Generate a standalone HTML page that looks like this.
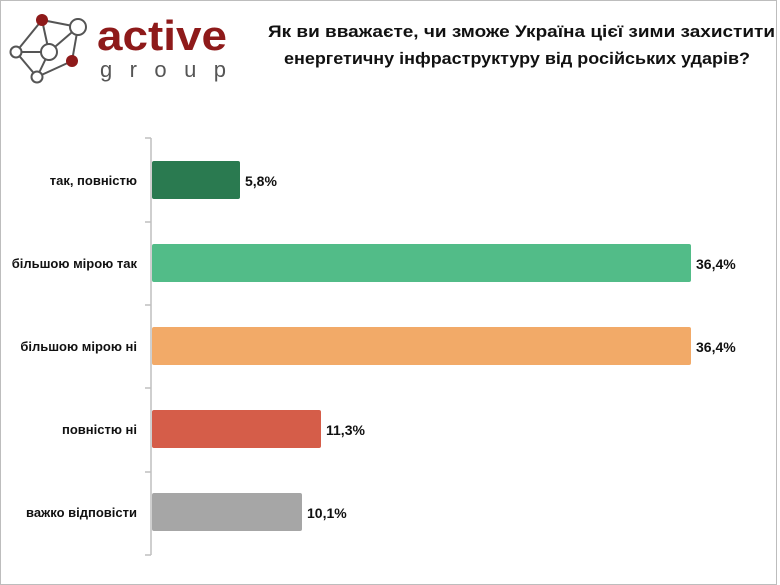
<!DOCTYPE html>
<html><head><meta charset="utf-8"><style>
html,body{margin:0;padding:0;background:#fff;}
svg{display:block;}
text{font-family:"Liberation Sans",sans-serif;font-weight:bold;}
</style></head><body>
<svg width="780" height="585" viewBox="0 0 780 585" xmlns="http://www.w3.org/2000/svg">
<rect x="0.5" y="0.5" width="776" height="584" fill="#fff" stroke="#bdbdbd"/>
<!-- logo -->
<g stroke="#555" stroke-width="2" fill="#fff">
<line x1="42" y1="20" x2="78" y2="27"/>
<line x1="42" y1="20" x2="16" y2="52"/>
<line x1="42" y1="20" x2="49" y2="52"/>
<line x1="78" y1="27" x2="49" y2="52"/>
<line x1="78" y1="27" x2="72" y2="61"/>
<line x1="16" y1="52" x2="49" y2="52"/>
<line x1="16" y1="52" x2="37" y2="77"/>
<line x1="49" y1="52" x2="37" y2="77"/>
<line x1="72" y1="61" x2="37" y2="77"/>
<circle cx="78" cy="27" r="8"/>
<circle cx="49" cy="52" r="8"/>
<circle cx="16" cy="52" r="5.5"/>
<circle cx="37" cy="77" r="5.5"/>
</g>
<circle cx="42" cy="20" r="6" fill="#8e1a1a"/>
<circle cx="72" cy="61" r="6" fill="#8e1a1a"/>
<text x="97" y="50" font-size="42" fill="#8e1a1a" textLength="130" lengthAdjust="spacingAndGlyphs">active</text>
<text x="100" y="77" font-size="22" fill="#555" font-weight="normal" textLength="126" lengthAdjust="spacing" style="font-weight:normal">group</text>
<!-- title -->
<text x="268" y="37" font-size="17" fill="#111" textLength="507" lengthAdjust="spacingAndGlyphs">Як ви вважаєте, чи зможе Україна цієї зими захистити</text>
<text x="284" y="64" font-size="17" fill="#111" textLength="466" lengthAdjust="spacingAndGlyphs">енергетичну інфраструктуру від російських ударів?</text>
<!-- axis -->
<g stroke="#bfbfbf" stroke-width="1.5">
<line x1="151" y1="138" x2="151" y2="555"/>
<line x1="145" y1="138" x2="151" y2="138"/>
<line x1="145" y1="222" x2="151" y2="222"/>
<line x1="145" y1="305" x2="151" y2="305"/>
<line x1="145" y1="388" x2="151" y2="388"/>
<line x1="145" y1="472" x2="151" y2="472"/>
<line x1="145" y1="555" x2="151" y2="555"/>
</g>
<!-- bars -->
<rect x="152" y="161" width="88" height="38" rx="2" fill="#2a7a50"/>
<rect x="152" y="244" width="539" height="38" rx="2" fill="#52bc88"/>
<rect x="152" y="327" width="539" height="38" rx="2" fill="#f2aa68"/>
<rect x="152" y="410" width="169" height="38" rx="2" fill="#d55d49"/>
<rect x="152" y="493" width="150" height="38" rx="2" fill="#a6a6a6"/>
<g font-size="13" fill="#111" text-anchor="end">
<text x="137" y="185">так, повністю</text>
<text x="137" y="268">більшою мірою так</text>
<text x="137" y="351">більшою мірою ні</text>
<text x="137" y="434">повністю ні</text>
<text x="137" y="517">важко відповісти</text>
</g>
<g font-size="14" fill="#111">
<text x="245" y="186">5,8%</text>
<text x="696" y="269">36,4%</text>
<text x="696" y="352">36,4%</text>
<text x="326" y="435">11,3%</text>
<text x="307" y="518">10,1%</text>
</g>
</svg>
</body></html>
